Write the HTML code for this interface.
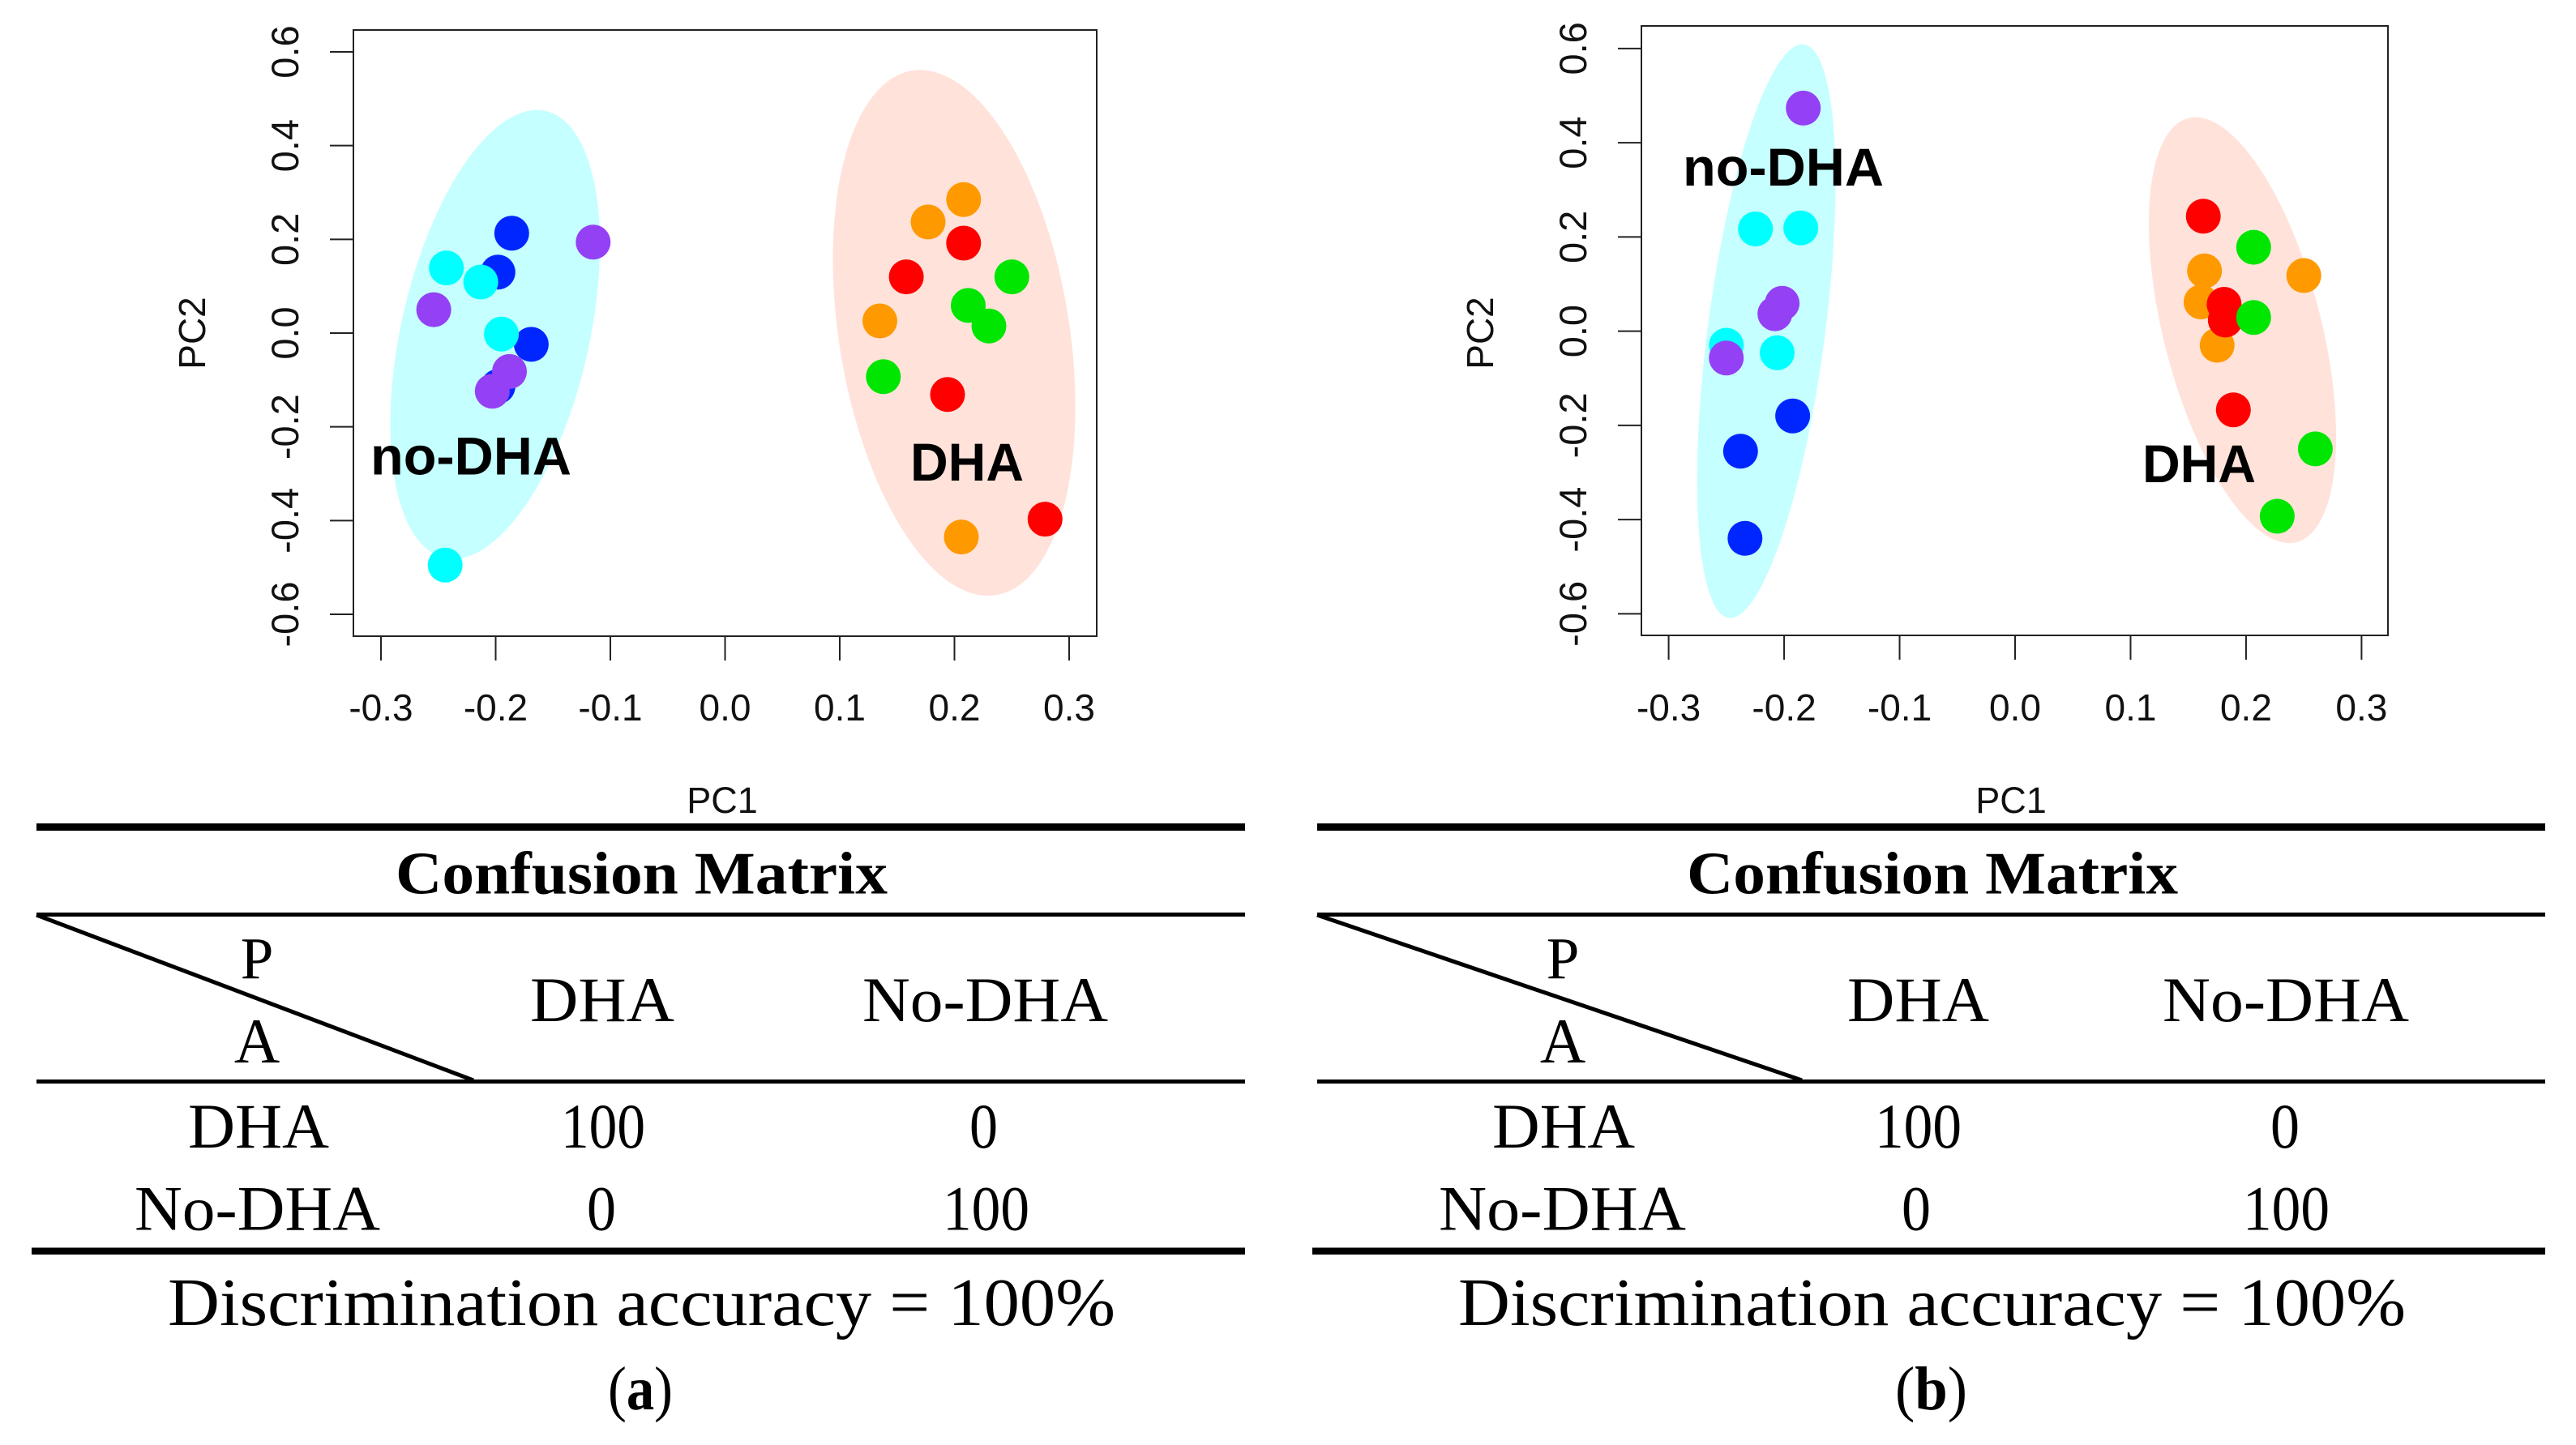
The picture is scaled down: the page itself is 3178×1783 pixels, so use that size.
<!DOCTYPE html>
<html lang="en">
<head>
<meta charset="utf-8">
<title>PCA score plots and confusion matrices</title>
<style>
html,body{margin:0;padding:0;background:#fff;}
svg{display:block;}
.sans{font-family:"Liberation Sans",sans-serif;fill:#111;}
.serif{font-family:"Liberation Serif",serif;fill:#000;font-size:78px;}
.group{font-family:"Liberation Sans",sans-serif;font-weight:bold;font-size:66px;fill:#000;}
</style>
</head>
<body>
<svg id="figure" xmlns="http://www.w3.org/2000/svg" width="3178" height="1783" viewBox="0 0 3178 1783">
<rect x="0" y="0" width="3178" height="1783" fill="#fff"/>
<g id="plot-a"></g>
<g id="plot-b"></g>

<g>
<rect x="45" y="1016" width="1491" height="9" fill="#000"/>
<rect x="45" y="1126" width="1491" height="5" fill="#000"/>
<rect x="45" y="1332" width="1491" height="5" fill="#000"/>
<rect x="39" y="1539.5" width="1497" height="8.5" fill="#000"/>
<line x1="45" y1="1129" x2="584" y2="1333" stroke="#000" stroke-width="5"/>
<text class="serif" style="font-size:74px" font-weight="bold" x="488" y="1102.5" textLength="607" lengthAdjust="spacingAndGlyphs">Confusion Matrix</text>
<text class="serif" style="font-size:73px" x="317" y="1207.5" text-anchor="middle">P</text>
<text class="serif" x="317" y="1311" text-anchor="middle">A</text>
<text class="serif" x="654" y="1260" textLength="178" lengthAdjust="spacingAndGlyphs">DHA</text>
<text class="serif" x="1064" y="1260" textLength="303" lengthAdjust="spacingAndGlyphs">No-DHA</text>
<text class="serif" x="232" y="1416" textLength="174" lengthAdjust="spacingAndGlyphs">DHA</text>
<text class="serif" x="692" y="1416" textLength="104" lengthAdjust="spacingAndGlyphs">100</text>
<text class="serif" x="1196" y="1416" textLength="35" lengthAdjust="spacingAndGlyphs">0</text>
<text class="serif" x="166" y="1517.5" textLength="303" lengthAdjust="spacingAndGlyphs">No-DHA</text>
<text class="serif" x="724" y="1517.5" textLength="36" lengthAdjust="spacingAndGlyphs">0</text>
<text class="serif" x="1163" y="1517.5" textLength="107" lengthAdjust="spacingAndGlyphs">100</text>
<text class="serif" style="font-size:84px" x="207" y="1635" textLength="1169" lengthAdjust="spacingAndGlyphs">Discrimination accuracy = 100%</text>
<text class="serif" style="font-size:76px" x="750" y="1739" textLength="80" lengthAdjust="spacingAndGlyphs">(<tspan font-weight="bold">a</tspan>)</text>
</g>

<g>
<rect x="1625" y="1016" width="1515" height="9" fill="#000"/>
<rect x="1625" y="1126" width="1515" height="5" fill="#000"/>
<rect x="1625" y="1332" width="1515" height="5" fill="#000"/>
<rect x="1619" y="1539.5" width="1521" height="8.5" fill="#000"/>
<line x1="1625" y1="1129" x2="2223" y2="1333" stroke="#000" stroke-width="5"/>
<text class="serif" style="font-size:74px" font-weight="bold" x="2081" y="1102.5" textLength="606" lengthAdjust="spacingAndGlyphs">Confusion Matrix</text>
<text class="serif" style="font-size:73px" x="1928" y="1207.5" text-anchor="middle">P</text>
<text class="serif" x="1928" y="1311" text-anchor="middle">A</text>
<text class="serif" x="2279" y="1260" textLength="175" lengthAdjust="spacingAndGlyphs">DHA</text>
<text class="serif" x="2668" y="1260" textLength="304" lengthAdjust="spacingAndGlyphs">No-DHA</text>
<text class="serif" x="1841" y="1416" textLength="176" lengthAdjust="spacingAndGlyphs">DHA</text>
<text class="serif" x="2313" y="1416" textLength="107" lengthAdjust="spacingAndGlyphs">100</text>
<text class="serif" x="2801" y="1416" textLength="36" lengthAdjust="spacingAndGlyphs">0</text>
<text class="serif" x="1775" y="1517.5" textLength="305" lengthAdjust="spacingAndGlyphs">No-DHA</text>
<text class="serif" x="2346" y="1517.5" textLength="36" lengthAdjust="spacingAndGlyphs">0</text>
<text class="serif" x="2767" y="1517.5" textLength="107" lengthAdjust="spacingAndGlyphs">100</text>
<text class="serif" style="font-size:84px" x="1799" y="1635" textLength="1169" lengthAdjust="spacingAndGlyphs">Discrimination accuracy = 100%</text>
<text class="serif" style="font-size:76px" x="2338" y="1739" textLength="89" lengthAdjust="spacingAndGlyphs">(<tspan font-weight="bold">b</tspan>)</text>
</g>
</svg>

<script>
// Axis ticks and labels
const xTicks = [-0.3, -0.2, -0.1, 0, 0.1, 0.2, 0.3];
const xTickLabels = ['-0.3', '-0.2', '-0.1', '0.0', '0.1', '0.2', '0.3'];
const yTicks = [-0.6, -0.4, -0.2, 0, 0.2, 0.4, 0.6];
const yTickLabels = ['-0.6', '-0.4', '-0.2', '0.0', '0.2', '0.4', '0.6'];

// Series drawing order and colours
const seriesNames = ['blue', 'cyan', 'purple', 'orange', 'red', 'green'];
const seriesColors = ['#0026ff', '#00ffff', '#9440f5', '#ff9900', '#ff0000', '#00e600'];

// Panel (a) scores
const aBluePC1 = [-0.186, -0.198, -0.169, -0.198];
const aBluePC2 = [0.213, 0.130, -0.024, -0.114];
const aCyanPC1 = [-0.243, -0.213, -0.195, -0.244];
const aCyanPC2 = [0.139, 0.109, -0.002, -0.495];
const aPurplePC1 = [-0.115, -0.254, -0.188, -0.203];
const aPurplePC2 = [0.194, 0.050, -0.082, -0.124];
const aOrangePC1 = [0.208, 0.177, 0.135, 0.206];
const aOrangePC2 = [0.285, 0.237, 0.026, -0.435];
const aRedPC1 = [0.208, 0.158, 0.194, 0.279];
const aRedPC2 = [0.192, 0.120, -0.131, -0.397];
const aGreenPC1 = [0.250, 0.212, 0.230, 0.138];
const aGreenPC2 = [0.120, 0.059, 0.015, -0.093];

// Panel (b) scores
const bBluePC1 = [-0.1926, -0.2377, -0.2339];
const bBluePC2 = [-0.180, -0.255, -0.440];
const bCyanPC1 = [-0.2248, -0.1856, -0.250, -0.206];
const bCyanPC2 = [0.217, 0.219, -0.030, -0.046];
const bPurplePC1 = [-0.1834, -0.2017, -0.208, -0.2501];
const bPurplePC2 = [0.4735, 0.059, 0.037, -0.057];
const bOrangePC1 = [0.164, 0.161, 0.175, 0.250];
const bOrangePC2 = [0.128, 0.062, -0.030, 0.118];
const bRedPC1 = [0.163, 0.181, 0.182, 0.189];
const bRedPC2 = [0.244, 0.057, 0.0235, -0.167];
const bGreenPC1 = [0.2066, 0.2066, 0.260, 0.227];
const bGreenPC2 = [0.178, 0.029, -0.250, -0.393];

// Confidence ellipses: centre PC1, centre PC2, half-width, half-height, correlation
const aNoDhaEllipse = [-0.2005, -0.003, 0.0914, 0.479, 0.40];
const aDhaEllipse = [0.1997, 0.0005, 0.1057, 0.561, -0.28];
const bNoDhaEllipse = [-0.2154, 0.000, 0.0599, 0.609, 0.52];
const bDhaEllipse = [0.1969, 0.0022, 0.0811, 0.452, -0.50];

const SVG_NS = 'http://www.w3.org/2000/svg';

function make(parent, tag) {
  const el = document.createElementNS(SVG_NS, tag);
  parent.appendChild(el);
  return el;
}

function drawEllipse(g, params, sx, sy, color, name) {
  const phi = Math.acos(params[4]);
  let d = '';
  for (let i = 0; i < 180; i++) {
    const t = i / 180 * 2 * Math.PI;
    const px = sx(params[0] + params[2] * Math.cos(t));
    const py = sy(params[1] + params[3] * Math.cos(t + phi));
    d += (i ? 'L' : 'M') + px.toFixed(1) + ' ' + py.toFixed(1);
  }
  const path = make(g, 'path');
  path.setAttribute('d', d + 'Z');
  path.setAttribute('fill', color);
  
  
}

function drawPanel(id, geo, pc1, pc2, noDha, dha, labels) {
  const g = document.getElementById(id);
  const sx = v => geo.x0 + v * geo.xUnit;
  const sy = v => geo.y0 - v * geo.yUnit;

  drawEllipse(g, noDha, sx, sy, '#c5ffff', 'no-dha-ellipse');
  drawEllipse(g, dha, sx, sy, '#ffe3da', 'dha-ellipse');

  const box = make(g, 'rect');
  box.setAttribute('x', geo.left);
  box.setAttribute('y', geo.top);
  box.setAttribute('width', geo.right - geo.left);
  box.setAttribute('height', geo.bottom - geo.top);
  box.setAttribute('fill', 'none');
  box.setAttribute('stroke', '#222');
  box.setAttribute('stroke-width', '2');
  
  

  xTicks.forEach((v, i) => {
    const tick = make(g, 'line');
    tick.setAttribute('x1', sx(v));
    tick.setAttribute('x2', sx(v));
    tick.setAttribute('y1', geo.bottom);
    tick.setAttribute('y2', geo.bottom + 30);
    tick.setAttribute('stroke', '#222');
    tick.setAttribute('stroke-width', '2');
    
    
    const label = make(g, 'text');
    label.textContent = xTickLabels[i];
    label.setAttribute('class', 'sans');
    label.setAttribute('font-size', '46');
    label.setAttribute('text-anchor', 'middle');
    label.setAttribute('x', sx(v));
    label.setAttribute('y', 889);
    
    
  });

  yTicks.forEach((v, i) => {
    const tick = make(g, 'line');
    tick.setAttribute('x1', geo.left - 29);
    tick.setAttribute('x2', geo.left);
    tick.setAttribute('y1', sy(v));
    tick.setAttribute('y2', sy(v));
    tick.setAttribute('stroke', '#222');
    tick.setAttribute('stroke-width', '2');
    
    
    const label = make(g, 'text');
    label.textContent = yTickLabels[i];
    label.setAttribute('class', 'sans');
    label.setAttribute('font-size', '47');
    label.setAttribute('text-anchor', 'middle');
    label.setAttribute('transform', 'translate(' + geo.yLabelX + ' ' + sy(v) + ') rotate(-90)');
    
    
  });

  const xTitle = make(g, 'text');
  xTitle.textContent = 'PC1';
  xTitle.setAttribute('class', 'sans');
  xTitle.setAttribute('font-size', '45');
  xTitle.setAttribute('text-anchor', 'middle');
  xTitle.setAttribute('x', geo.xTitleX);
  xTitle.setAttribute('y', 1003);
  
  

  const yTitle = make(g, 'text');
  yTitle.textContent = 'PC2';
  yTitle.setAttribute('class', 'sans');
  yTitle.setAttribute('font-size', '46');
  yTitle.setAttribute('text-anchor', 'middle');
  yTitle.setAttribute('transform', 'translate(' + geo.yTitleX + ' 411) rotate(-90)');
  
  

  seriesNames.forEach((name, s) => {
    pc1[s].forEach((v, i) => {
      const dot = make(g, 'circle');
      dot.setAttribute('cx', sx(v).toFixed(1));
      dot.setAttribute('cy', sy(pc2[s][i]).toFixed(1));
      dot.setAttribute('r', '21.5');
      dot.setAttribute('fill', seriesColors[s]);
      
      
    });
  });

  const noDhaLabel = make(g, 'text');
  noDhaLabel.textContent = 'no-DHA';
  noDhaLabel.setAttribute('class', 'group');
  noDhaLabel.setAttribute('x', labels.noDhaX);
  noDhaLabel.setAttribute('y', labels.noDhaY);
  noDhaLabel.setAttribute('textLength', '248');
  noDhaLabel.setAttribute('lengthAdjust', 'spacingAndGlyphs');
  
  

  const dhaLabel = make(g, 'text');
  dhaLabel.textContent = 'DHA';
  dhaLabel.setAttribute('class', 'group');
  dhaLabel.setAttribute('x', labels.dhaX);
  dhaLabel.setAttribute('y', labels.dhaY);
  dhaLabel.setAttribute('textLength', '140');
  dhaLabel.setAttribute('lengthAdjust', 'spacingAndGlyphs');
  
  
}

drawPanel('plot-a',
  {left: 436, right: 1353, top: 37, bottom: 785, x0: 894.5, xUnit: 1415, y0: 411, yUnit: 578.3, yLabelX: 368, yTitleX: 253, xTitleX: 891},
  [aBluePC1, aCyanPC1, aPurplePC1, aOrangePC1, aRedPC1, aGreenPC1],
  [aBluePC2, aCyanPC2, aPurplePC2, aOrangePC2, aRedPC2, aGreenPC2],
  aNoDhaEllipse, aDhaEllipse,
  {noDhaX: 457, noDhaY: 585.6, dhaX: 1123, dhaY: 593});

drawPanel('plot-b',
  {left: 2025, right: 2946, top: 32, bottom: 784, x0: 2486, xUnit: 1424.7, y0: 408.6, yUnit: 581.2, yLabelX: 1957, yTitleX: 1842, xTitleX: 2481},
  [bBluePC1, bCyanPC1, bPurplePC1, bOrangePC1, bRedPC1, bGreenPC1],
  [bBluePC2, bCyanPC2, bPurplePC2, bOrangePC2, bRedPC2, bGreenPC2],
  bNoDhaEllipse, bDhaEllipse,
  {noDhaX: 2076, noDhaY: 229, dhaX: 2643, dhaY: 595});
</script>
</body>
</html>
